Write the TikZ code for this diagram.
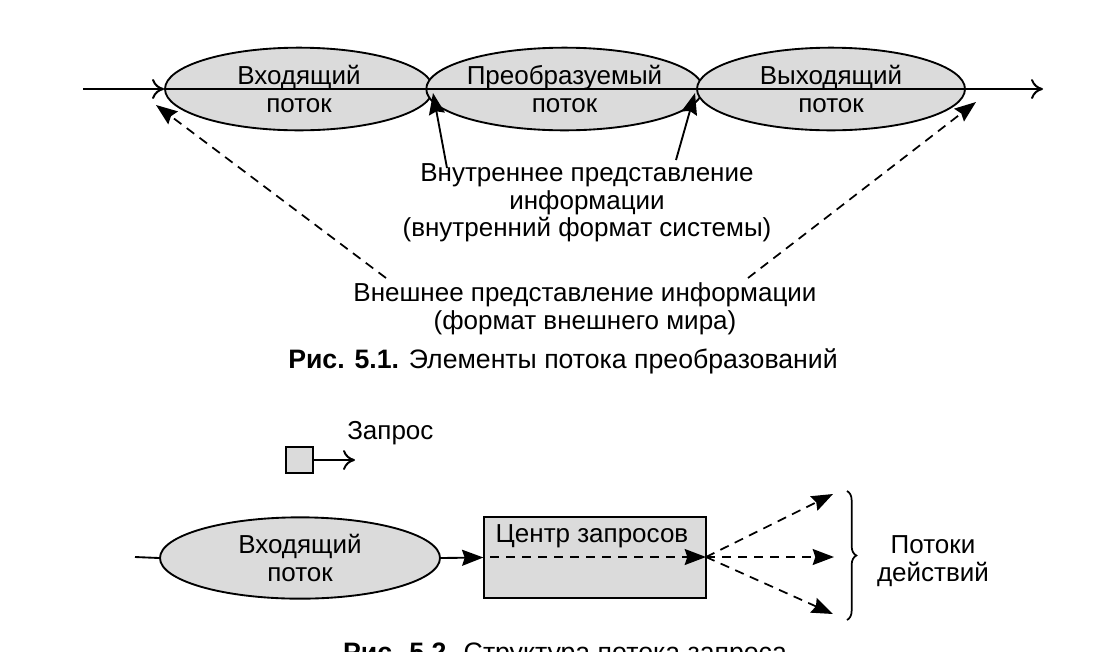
\documentclass[tikz,border=0pt]{standalone}
\usepackage{fontspec}
\setmainfont{Liberation Sans}
\usetikzlibrary{arrows.meta,decorations.pathreplacing,shapes.geometric}
\begin{document}
\begin{tikzpicture}[x=0.75pt,y=-0.75pt,
  every node/.style={font=\fontsize{19.5pt}{20.7pt}\selectfont},
  flow/.style={ellipse,draw,line width=1.4pt,fill=gray!28,inner sep=0pt,minimum height=62pt,align=center},
  txt/.style={align=center,inner sep=0pt},
  sarrow/.style={line width=1.4pt,-{Stealth[length=16pt,width=12pt,inset=2pt]}},
  varrow/.style={line width=1.5pt,-{To[length=9pt,width=15pt,line width=1.5pt]}},
  darrow/.style={line width=1.3pt,dash pattern=on 7pt off 5pt,-{Stealth[length=16pt,width=12pt,inset=2pt]}},
  line/.style={line width=1.4pt}]
\useasboundingbox (0,0) rectangle (1097,651);
\fill[white] (0,0) rectangle (1097,651);
% ---- figure 5.1 ----
\node[flow,minimum width=201pt] (e1) at (299,89) {Входящий\\поток};
\node[flow,minimum width=199pt] (e2) at (564.5,89) {Преобразуемый\\поток};
\node[flow,minimum width=201pt] (e3) at (831,89) {Выходящий\\поток};
\coordinate (start) at (83,89);
\coordinate (end) at (1043,89);
\draw[varrow] (start) -- (e1.west);
\draw[line] (e1.west) -- (e3.east);
\draw[varrow] (e3.east) -- (end);
\node[txt] (inner) at (587,203) {Внутреннее представление\\информации\\(внутренний формат системы)};
\node[txt] (outer) at (585,309) {Внешнее представление информации\\(формат внешнего мира)};
\node[txt,font=\fontsize{20pt}{22pt}\selectfont] (cap1) at (563,361) {\textbf{Рис. 5.1.} Элементы потока преобразований};
\coordinate (a1s) at (447,168);
\coordinate (a1e) at (433,93);
\coordinate (a2s) at (676,160);
\coordinate (a2e) at (695,93);
\draw[sarrow] (a1s) -- (a1e);
\draw[sarrow] (a2s) -- (a2e);
\coordinate (d1s) at (386,278);
\coordinate (d1e) at (156,105);
\coordinate (d2s) at (748,278);
\coordinate (d2e) at (976,102);
\draw[darrow] (d1s) -- (d1e);
\draw[darrow] (d2s) -- (d2e);
% ---- figure 5.2 ----
\node[txt,anchor=west] (req) at (347,433) {Запрос};
\node[draw,line width=1.4pt,fill=gray!28,minimum width=20pt,minimum height=19pt,inner sep=0pt] (sq) at (299.5,460) {};
\coordinate (sqe) at (355,460);
\draw[varrow] (sq.east) -- (sqe);
\node[flow,minimum width=210pt,minimum height=61pt] (e4) at (300,558) {Входящий\\поток};
\coordinate (in4) at (135,557);
\draw[line] (in4) -- (e4.west);
\node[draw,line width=1.4pt,fill=gray!28,minimum width=166pt,minimum height=61pt,inner sep=0pt] (box) at (595,557.5) {};
\node[txt] (boxt) at (592,536) {Центр запросов};
\draw[sarrow] (e4.east) -- (box.west);
\coordinate (bi) at (490,557);
\coordinate (bo) at (706,557);
\draw[darrow] (bi) -- (bo);
\coordinate (t1) at (833,494);
\coordinate (t2) at (834,557);
\coordinate (t3) at (833,614);
\draw[darrow] (bo) -- (t1);
\draw[darrow] (bo) -- (t2);
\draw[darrow] (bo) -- (t3);
\coordinate (b1) at (847,491);
\coordinate (b2) at (847,620);
\draw[line width=1.3pt,decorate,decoration={brace,amplitude=7pt}] (b1) -- (b2);
\node[txt] (acts) at (933,561) {Потоки\\действий};
\node[txt,font=\fontsize{20pt}{22pt}\selectfont] (cap2) at (565,655) {\textbf{Рис. 5.2.} Структура потока запроса};
\end{tikzpicture}
\end{document}
